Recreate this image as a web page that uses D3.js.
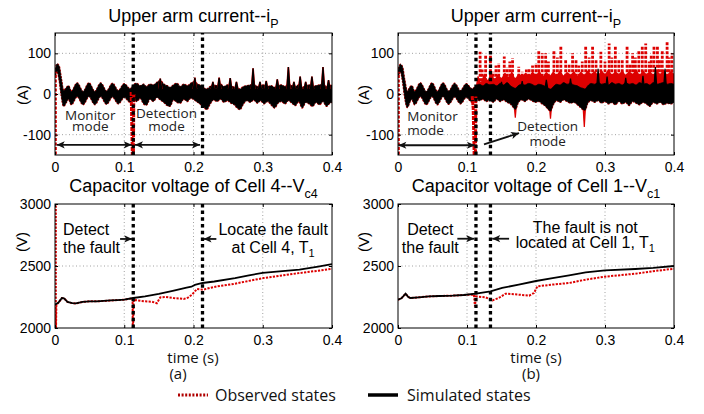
<!DOCTYPE html>
<html><head><meta charset="utf-8">
<script src="https://cdn.jsdelivr.net/npm/d3@7"></script>
<style>
body{margin:0;background:#fff}
svg{display:block}
</style></head>
<body><svg id="c" width="704" height="414"></svg>
<script>
// ---------------- DATA ----------------
const xTicks = [0, 0.1, 0.2, 0.3, 0.4];
const xTickLabels = ["0", "0.1", "0.2", "0.3", "0.4"];
const curTicks = [-100, 0, 100];
const curTickLabels = ["-100", "0", "100"];
const volTicks = [2000, 2500, 3000];
const volTickLabels = ["2000", "2500", "3000"];

// fault detection instants (s)
const markersA = [0.113, 0.213];
const markersB = [0.113, 0.134];

// simulated upper-arm current band [t, upper, lower] (A) -- panel (a)
const simBandA = [
 [0.000,52,40],[0.003,74,56],[0.006,68,36],[0.009,38,-2],[0.0125,8,-30],[0.0165,16,-20],[0.0195,20,-12],
 [0.0235,6,-26],[0.032,27,-6],[0.0405,6,-26],[0.049,27,-6],[0.0575,6,-26],[0.066,27,-6],[0.0745,7,-25],
 [0.083,26,-7],[0.0915,8,-24],[0.100,25,-8],[0.1085,12,-20],
 [0.113,22,-12],[0.118,26,-18],[0.123,20,-10],[0.128,24,-24],[0.132,18,-27],[0.137,24,-12],[0.142,22,-18],
 [0.147,28,-8],[0.152,33,-14],[0.157,24,-20],[0.162,20,-28],[0.166,16,-30],[0.171,22,-14],[0.176,26,-20],
 [0.181,18,-22],[0.186,24,-12],[0.191,20,-18],[0.196,26,-10],[0.201,30,-14],[0.206,24,-20],[0.211,20,-26],
 [0.215,14,-32],[0.219,12,-38],[0.224,18,-24],[0.229,22,-14],[0.234,20,-18],[0.239,24,-12],[0.244,18,-20],
 [0.249,22,-16],[0.254,20,-22],[0.259,16,-26],[0.263,14,-34],[0.267,12,-38],[0.272,18,-24],[0.277,20,-16],
 [0.282,22,-20],[0.287,24,-14],[0.292,18,-22],[0.297,20,-16],[0.302,22,-24],[0.307,18,-18],[0.312,20,-26],
 [0.317,16,-34],[0.322,20,-22],[0.327,22,-18],[0.332,18,-24],[0.337,24,-16],[0.342,20,-22],[0.347,18,-28],
 [0.352,22,-18],[0.357,16,-34],[0.362,20,-20],[0.367,22,-24],[0.372,18,-30],[0.377,20,-20],[0.382,22,-26],
 [0.387,24,-18],[0.392,18,-30],[0.397,20,-22],[0.400,22,-20]
];
// narrow current peaks [t, peak] (A) -- panel (a)
const simSpikesA = [
 [0.152,38],[0.202,40],[0.228,30],[0.237,40],[0.253,39],[0.262,30],[0.286,63],[0.296,30],[0.305,32],
 [0.321,36],[0.337,66],[0.345,30],[0.354,43],[0.362,30],[0.371,43],[0.387,66],[0.395,34]
];
// observed current transients [t, value] (A) -- panel (a)
const obsStartA = [[0.0012,-160],[0.0012,55]];
const obsFaultA = [[0.1100,5],[0.1118,-160],[0.1132,-160],[0.1138,0]];

// simulated band -- panel (b)
const simBandB = [
 [0.000,54,42],[0.0035,73,55],[0.0065,66,34],[0.0095,36,-4],[0.0135,6,-33],[0.017,16,-20],[0.0200,20,-12],
 [0.024,6,-26],[0.0324,27,-6],[0.041,6,-26],[0.0493,27,-6],[0.057,6,-26],[0.0652,27,-6],[0.0735,7,-25],
 [0.0821,26,-7],[0.0905,8,-24],[0.099,25,-8],[0.1075,12,-20],
 [0.113,20,-10],[0.118,24,-16],[0.123,20,-12],[0.128,26,-18],[0.133,22,-14],[0.138,24,-20],[0.143,20,-12],
 [0.148,26,-18],[0.153,22,-14],[0.158,28,-20],[0.163,20,-24],[0.167,16,-32],[0.170,14,-38],[0.174,20,-22],
 [0.179,24,-14],[0.184,22,-18],[0.189,26,-12],[0.194,24,-16],[0.199,20,-20],[0.204,24,-18],[0.209,22,-24],
 [0.214,18,-30],[0.218,14,-38],[0.221,12,-42],[0.225,18,-26],[0.230,24,-16],[0.235,22,-20],[0.240,28,-14],
 [0.245,24,-18],[0.250,26,-22],[0.255,22,-20],[0.260,20,-26],[0.264,16,-32],[0.268,14,-38],[0.271,12,-40],
 [0.275,20,-22],[0.280,26,-16],[0.285,24,-20],[0.290,28,-16],[0.295,24,-22],[0.300,26,-18],[0.305,22,-24],
 [0.310,28,-20],[0.315,24,-26],[0.320,26,-18],[0.325,22,-24],[0.330,28,-20],[0.335,24,-28],[0.340,26,-18],
 [0.345,22,-22],[0.350,28,-26],[0.355,24,-20],[0.360,26,-24],[0.365,22,-30],[0.370,28,-20],[0.375,24,-24],
 [0.380,26,-20],[0.385,28,-26],[0.390,24,-22],[0.395,26,-24],[0.400,24,-20]
];
const simSpikesB = [
 [0.150,30],[0.180,32],[0.215,35],[0.250,38],[0.290,62],[0.303,43],[0.330,40],[0.355,45],[0.373,66],[0.387,62]
];
// observed (faulty) current -- panel (b)
const obsBandB = [
 [0.113,20],[0.116,45],[0.120,30],[0.125,50],[0.130,35],[0.135,55],[0.140,38],[0.145,48],[0.150,40],
 [0.155,52],[0.160,42],[0.165,55],[0.170,40],[0.175,50],[0.180,45],[0.185,52],[0.190,45],[0.195,55],
 [0.200,48],[0.205,56],[0.210,44],[0.215,54],[0.220,46],[0.225,55],[0.230,48],[0.235,58],[0.240,46],
 [0.245,54],[0.250,48],[0.255,56],[0.260,45],[0.265,55],[0.270,48],[0.275,58],[0.280,50],[0.285,56],
 [0.290,48],[0.295,58],[0.300,50],[0.305,60],[0.310,48],[0.315,56],[0.320,50],[0.325,58],[0.330,48],
 [0.335,56],[0.340,50],[0.345,60],[0.350,48],[0.355,58],[0.360,50],[0.365,56],[0.370,48],[0.375,58],
 [0.380,50],[0.385,60],[0.390,48],[0.395,56],[0.400,50]
];
const obsSpikesB = [
 [0.119,104],[0.122,60],[0.127,96],[0.134,96],[0.138,55],[0.142,70],[0.146,76],[0.154,92],[0.158,65],
 [0.162,80],[0.166,88],[0.175,67],[0.180,55],[0.186,60],[0.190,62],[0.195,70],[0.200,75],[0.204,108],
 [0.209,100],[0.214,100],[0.218,80],[0.226,108],[0.231,90],[0.236,116],[0.243,84],[0.248,75],[0.253,100],
 [0.258,85],[0.262,70],[0.267,80],[0.272,120],[0.277,90],[0.282,116],[0.287,85],[0.294,104],[0.300,80],
 [0.306,124],[0.310,90],[0.315,116],[0.320,85],[0.325,84],[0.332,120],[0.336,75],[0.340,100],[0.344,90],
 [0.349,108],[0.354,116],[0.359,124],[0.364,80],[0.367,95],[0.371,120],[0.376,120],[0.379,85],[0.383,108],
 [0.390,128],[0.393,90],[0.397,100]
];
const obsDipsB = [[0.170,-58],[0.221,-61],[0.270,-81]];
const obsStartB = [[0.0012,-160],[0.0012,55]];
const obsFaultB = [[0.1075,-5],[0.1090,-36],[0.1105,-160],[0.1122,-160],[0.1128,-6]];

// capacitor voltage of cell 4 (V) -- panel (a)
const simVA = [
 [0,2188],[0.005,2205],[0.010,2242],[0.013,2240],[0.018,2210],[0.025,2200],[0.030,2198],[0.040,2210],
 [0.050,2215],[0.060,2215],[0.070,2218],[0.080,2222],[0.090,2225],[0.100,2228],[0.113,2242],[0.130,2255],
 [0.150,2275],[0.170,2300],[0.190,2325],[0.197,2333],[0.202,2348],[0.213,2363],[0.230,2375],[0.260,2403],
 [0.280,2425],[0.300,2444],[0.320,2455],[0.353,2470],[0.380,2495],[0.400,2516]
];
const obsVA = [
 [0.0012,3100],[0.0012,1900],[0.002,2188],[0.005,2205],[0.010,2242],[0.013,2240],[0.018,2210],[0.025,2200],
 [0.030,2198],[0.040,2210],[0.050,2215],[0.060,2215],[0.070,2218],[0.080,2222],[0.090,2225],[0.100,2228],
 [0.112,2240],[0.1125,1900],[0.1135,2228],[0.120,2222],[0.130,2215],[0.140,2212],[0.147,2200],[0.152,2247],
 [0.160,2250],[0.171,2242],[0.180,2238],[0.186,2234],[0.192,2245],[0.198,2269],[0.205,2315],[0.214,2309],
 [0.225,2325],[0.234,2336],[0.258,2355],[0.280,2380],[0.301,2403],[0.330,2425],[0.354,2444],[0.380,2462],
 [0.400,2478]
];
// capacitor voltage of cell 1 (V) -- panel (b)
const simVB = [
 [0,2228],[0.005,2240],[0.011,2277],[0.015,2250],[0.018,2242],[0.030,2247],[0.045,2255],[0.060,2258],
 [0.079,2261],[0.095,2266],[0.113,2277],[0.134,2296],[0.151,2323],[0.175,2350],[0.200,2379],[0.224,2403],
 [0.248,2425],[0.272,2449],[0.300,2465],[0.344,2476],[0.370,2485],[0.400,2500]
];
const obsVB = [
 [0,2228],[0.005,2240],[0.011,2277],[0.015,2250],[0.018,2242],[0.030,2247],[0.045,2255],[0.060,2258],
 [0.079,2261],[0.095,2266],[0.110,2270],[0.1115,2175],[0.113,2255],[0.127,2247],[0.137,2223],[0.146,2242],
 [0.156,2277],[0.175,2269],[0.190,2261],[0.197,2282],[0.202,2336],[0.224,2350],[0.248,2363],[0.272,2390],
 [0.300,2414],[0.344,2438],[0.368,2457],[0.400,2478]
];

const legendLabels = ["Observed states", "Simulated states"];

// ---------------- DRAWING ----------------
const RED = "#dd0000";
const HELV = "'Liberation Sans', Arial, sans-serif";
const MYR = "'Open Sans', 'Noto Sans', sans-serif";
const svg = d3.select("#c");
const defs = svg.append("defs");
defs.append("marker").attr("id", "ah").attr("viewBox", "0 -5 10 10")
  .attr("refX", 10).attr("refY", 0).attr("markerWidth", 11).attr("markerHeight", 8)
  .attr("markerUnits", "userSpaceOnUse").attr("orient", "auto-start-reverse")
  .append("path").attr("d", "M0,-4.5L10,0L0,4.5L2.5,0Z").attr("fill", "#111");

let clipN = 0;
function makePanel(xr, yr, yDomain, yTicks, yLabels) {
  const x = d3.scaleLinear().domain([0, 0.4]).range(xr);
  const y = d3.scaleLinear().domain(yDomain).range(yr);
  const g = svg.append("g");
  const id = "clip" + (clipN++);
  defs.append("clipPath").attr("id", id).append("rect")
    .attr("x", xr[0]).attr("y", yr[1]).attr("width", xr[1] - xr[0]).attr("height", yr[0] - yr[1]);
  const grid = g.append("g").attr("stroke", "#8a8a8a").attr("stroke-width", 0.8).attr("stroke-dasharray", "1,2.5");
  xTicks.slice(1, -1).forEach(t => grid.append("line").attr("x1", x(t)).attr("x2", x(t)).attr("y1", yr[0]).attr("y2", yr[1]));
  yTicks.forEach(v => { if (v > yDomain[0] && v < yDomain[1]) grid.append("line").attr("x1", xr[0]).attr("x2", xr[1]).attr("y1", y(v)).attr("y2", y(v)); });
  const plot = g.append("g").attr("clip-path", `url(#${id})`);
  const over = g.append("g");
  return { x, y, g, plot, over, xr, yr, yTicks, yLabels };
}
function finishPanel(p) {
  const { x, y, g, xr, yr, yTicks, yLabels } = p;
  g.append("rect").attr("x", xr[0]).attr("y", yr[1]).attr("width", xr[1] - xr[0]).attr("height", yr[0] - yr[1])
    .attr("fill", "none").attr("stroke", "#000").attr("stroke-width", 1);
  const ax = g.append("g").attr("transform", `translate(0,${yr[0]})`)
    .call(d3.axisBottom(x).tickValues(xTicks).tickFormat((d, i) => xTickLabels[i]).tickSizeInner(-3).tickSizeOuter(0).tickPadding(7));
  const ay = g.append("g").attr("transform", `translate(${xr[0]},0)`)
    .call(d3.axisLeft(y).tickValues(yTicks).tickFormat((d, i) => yLabels[i]).tickSizeInner(-3).tickSizeOuter(0).tickPadding(4));
  const at = g.append("g").attr("transform", `translate(0,${yr[1]})`)
    .call(d3.axisTop(x).tickValues(xTicks).tickFormat("").tickSizeInner(-3).tickSizeOuter(0));
  const ar = g.append("g").attr("transform", `translate(${xr[1]},0)`)
    .call(d3.axisRight(y).tickValues(yTicks).tickFormat("").tickSizeInner(-3).tickSizeOuter(0));
  [ax, ay, at, ar].forEach(a => {
    a.select(".domain").remove();
    a.selectAll("text").attr("font-family", HELV).attr("font-size", 14).attr("fill", "#000");
    a.selectAll("line").attr("stroke", "#000");
  });
}
function title(p, main, sub, yBase) {
  const t = svg.append("text").attr("x", (p.xr[0] + p.xr[1]) / 2).attr("y", yBase)
    .attr("text-anchor", "middle").attr("font-family", HELV).attr("font-size", 18).attr("fill", "#000");
  t.append("tspan").text(main);
  t.append("tspan").attr("dy", 6).attr("font-size", 12.5).text(sub);
}
function ylabel(txt, cx, cy) {
  svg.append("text").attr("transform", `translate(${cx},${cy}) rotate(-90)`).attr("text-anchor", "middle")
    .attr("dy", "0.35em").attr("font-family", HELV).attr("font-size", 15).text(txt);
}
function band(p, data, fill, outline) {
  const a = d3.area().curve(d3.curveMonotoneX).x(d => p.x(d[0])).y0(d => p.y(d[2])).y1(d => p.y(d[1]));
  if (outline) p.plot.append("path").attr("d", a(data)).attr("fill", "none").attr("stroke", RED)
    .attr("stroke-width", 1.7).attr("stroke-dasharray", "2,1.2");
  p.plot.append("path").attr("d", a(data)).attr("fill", fill).attr("stroke", fill).attr("stroke-width", 0.8);
}
function spikes(p, data, base, halfW, fill, outline) {
  const ln = d3.line().x(d => p.x(d[0])).y(d => p.y(d[1]));
  data.forEach(d => {
    const tri = [[d[0] - halfW, base], [d[0], d[1]], [d[0] + halfW, base]];
    if (outline) p.plot.append("path").attr("d", ln(tri)).attr("fill", "none").attr("stroke", RED).attr("stroke-width", 1.7);
    p.plot.append("path").attr("d", ln(tri) + "Z").attr("fill", fill).attr("stroke", fill).attr("stroke-width", 1.2);
  });
}
function redPath(p, data, w, dash) {
  const ln = d3.line().x(d => p.x(d[0])).y(d => p.y(d[1]));
  p.plot.append("path").attr("d", ln(data)).attr("fill", "none").attr("stroke", RED)
    .attr("stroke-width", w).attr("stroke-dasharray", dash);
}
function markerLines(p, ts) {
  ts.forEach(t => p.over.append("line").attr("x1", p.x(t)).attr("x2", p.x(t)).attr("y1", p.yr[0]).attr("y2", p.yr[1])
    .attr("stroke", "#000").attr("stroke-width", 3.3).attr("stroke-dasharray", "3.5,3.2"));
}
function arrow(p, t1, v1, t2, v2, both) {
  const l = p.over.append("line").attr("x1", p.x(t1)).attr("y1", p.y(v1)).attr("x2", p.x(t2)).attr("y2", p.y(v2))
    .attr("stroke", "#111").attr("stroke-width", 1.8).attr("marker-end", "url(#ah)");
  if (both) l.attr("marker-start", "url(#ah)");
}
// one multi-line text element per annotation
function label(p, lines, t, anchor, font, size, color) {
  const e = p.over.append("text").attr("text-anchor", anchor)
    .attr("font-family", font).attr("font-size", size).attr("fill", color);
  lines.forEach(([txt, v, sub]) => {
    e.append("tspan").attr("x", p.x(t)).attr("y", p.y(v)).text(txt);
    if (sub) e.append("tspan").attr("dy", 4).attr("font-size", 11).text(sub);
  });
}

// ---- Panel (a) top ----
const pA = makePanel([55, 332], [155, 33], [-150, 150], curTicks, curTickLabels);
band(pA, simBandA, "#000", true);
spikes(pA, simSpikesA, 12, 0.0022, "#000", true);
markerLines(pA, markersA);
redPath(pA, obsStartA, 2, "3,1.5");
redPath(pA, obsFaultA, 3, "4,1");
arrow(pA, 0.0025, -125, 0.1108, -125, true);
arrow(pA, 0.1155, -125, 0.2094, -125, true);
label(pA, [["Monitor", -65], ["mode", -92]], 0.051, "middle", MYR, 13.5, "#222");
label(pA, [["Detection", -60], ["mode", -91]], 0.161, "middle", MYR, 13.5, "#222");
finishPanel(pA);
title(pA, "Upper arm current--i", "P", 22);
ylabel("(A)", 23, 95);

// ---- Panel (b) top ----
const pB = makePanel([398, 674], [155, 33], [-150, 150], curTicks, curTickLabels);
{
  const a = d3.area().curve(d3.curveMonotoneX).x(d => pB.x(d[0])).y0(pB.y(5)).y1(d => pB.y(d[1]));
  pB.plot.append("path").attr("d", a(obsBandB)).attr("fill", RED);
  const ln = d3.line().x(d => pB.x(d[0])).y(d => pB.y(d[1]));
  obsSpikesB.forEach(d => pB.plot.append("path").attr("d", ln([[d[0], 20], d])).attr("stroke", RED)
    .attr("stroke-width", 2.8).attr("stroke-dasharray", "3,1.5").attr("fill", "none"));
}
spikes(pB, obsDipsB, -10, 0.0025, RED, false);
band(pB, simBandB, "#000", true);
spikes(pB, simSpikesB, 12, 0.0022, "#000", false);
markerLines(pB, markersB);
redPath(pB, obsStartB, 2, "3,1.5");
redPath(pB, obsFaultB, 3, "4,1");
arrow(pB, 0.0005, -126, 0.1115, -126, true);
arrow(pB, 0.1246, -124, 0.1754, -96, false);
label(pB, [["Monitor", -66], ["mode", -101]], 0.0135, "start", MYR, 13.5, "#222");
label(pB, [["Detection", -91], ["mode", -127]], 0.217, "middle", MYR, 13.5, "#222");
finishPanel(pB);
title(pB, "Upper arm current--i", "P", 22);
ylabel("(A)", 364, 95);

// ---- Panel (a) bottom ----
const vLine = (p, data, color, w, dash) => {
  const ln = d3.line().x(d => p.x(d[0])).y(d => p.y(d[1]));
  const e = p.plot.append("path").attr("d", ln(data)).attr("fill", "none").attr("stroke", color).attr("stroke-width", w);
  if (dash) e.attr("stroke-dasharray", dash);
};
const pC = makePanel([55, 332], [328, 204], [2000, 3000], volTicks, volTickLabels);
vLine(pC, obsVA, RED, 2.0, "2.2,1.3");
vLine(pC, simVA, "#000", 1.8);
markerLines(pC, markersA);
arrow(pC, 0.094, 2718, 0.1115, 2718, false);
arrow(pC, 0.233, 2718, 0.2145, 2718, false);
label(pC, [["Detect", 2752], ["the fault", 2605]], 0.0116, "start", HELV, 16, "#000");
label(pC, [["Locate the fault", 2752], ["at Cell 4, T", 2608, "1"]], 0.315, "middle", HELV, 16, "#000");
finishPanel(pC);
title(pC, "Capacitor voltage of Cell 4--V", "c4", 192);
ylabel("(V)", 22, 242);

// ---- Panel (b) bottom ----
const pD = makePanel([398, 674], [328, 204], [2000, 3000], volTicks, volTickLabels);
vLine(pD, obsVB, RED, 2.0, "2.2,1.3");
vLine(pD, simVB, "#000", 1.8);
markerLines(pD, markersB);
arrow(pD, 0.086, 2720, 0.1105, 2720, false);
arrow(pD, 0.161, 2720, 0.1365, 2720, false);
label(pD, [["Detect", 2752], ["the fault", 2607]], 0.0468, "middle", HELV, 16, "#000");
label(pD, [["The fault is not", 2766], ["located at Cell 1, T", 2645, "1"]], 0.2714, "middle", HELV, 16, "#000");
finishPanel(pD);
title(pD, "Capacitor voltage of Cell 1--V", "c1", 192);
ylabel("(V)", 364, 242);

// ---- bottom captions & legend ----
const cap = (lines, x) => {
  const e = svg.append("text").attr("text-anchor", "middle")
    .attr("font-family", MYR).attr("font-size", 15).attr("fill", "#111");
  lines.forEach(([txt, dx, y]) => e.append("tspan").attr("x", x + dx).attr("y", y).text(txt));
};
cap([["time (s)", 0, 363], ["(a)", -15, 379]], 193);
cap([["time (s)", 0, 363], ["(b)", -5, 379]], 536);
const lg = svg.append("g");
lg.append("line").attr("x1", 178).attr("x2", 208).attr("y1", 395).attr("y2", 395)
  .attr("stroke", "#b00000").attr("stroke-width", 3).attr("stroke-dasharray", "2,1.6");
lg.append("text").attr("x", 215).attr("y", 401).attr("font-family", MYR).attr("font-size", 16).attr("fill", "#111").text(legendLabels[0]);
lg.append("line").attr("x1", 368).attr("x2", 398).attr("y1", 395).attr("y2", 395)
  .attr("stroke", "#000").attr("stroke-width", 3.5);
lg.append("text").attr("x", 407).attr("y", 401).attr("font-family", MYR).attr("font-size", 16).attr("fill", "#111").text(legendLabels[1]);
</script>
</body></html>
